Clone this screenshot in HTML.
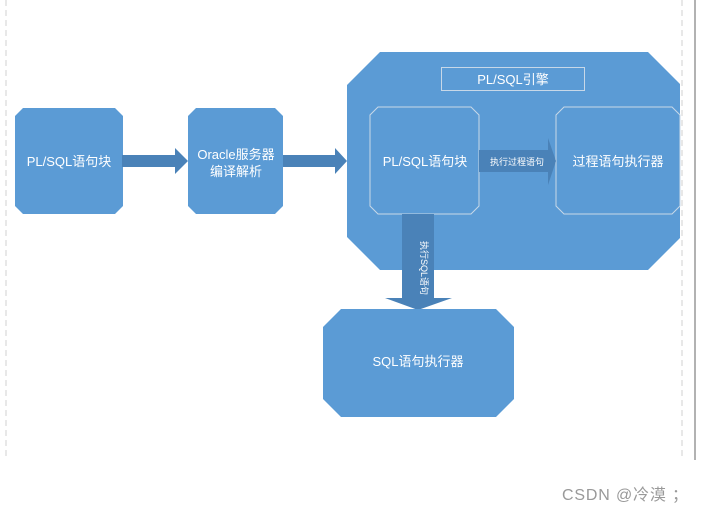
<!DOCTYPE html>
<html><head><meta charset="utf-8"><style>
html,body{margin:0;padding:0;background:#fff;}
svg{display:block;}
text{font-family:"Liberation Sans","Noto Sans CJK SC",sans-serif;fill:#fff;}
</style></head><body>
<svg width="701" height="513" viewBox="0 0 701 513" xmlns="http://www.w3.org/2000/svg">
<line x1="6" y1="0" x2="6" y2="460" stroke="#d0d0d0" stroke-dasharray="6,4"/>
<line x1="682" y1="0" x2="682" y2="460" stroke="#d0d0d0" stroke-dasharray="6,4"/>
<line x1="695" y1="0" x2="695" y2="460" stroke="#999" stroke-width="1.5"/>
<polygon points="23,108 115,108 123,116 123,206 115,214 23,214 15,206 15,116" fill="#5b9bd5"/>
<text x="69" y="166" font-size="13" text-anchor="middle">PL/SQL语句块</text>
<polygon points="122,155 175,155 175,148 188,161 175,174 175,167 122,167" fill="#4a82b8"/>
<polygon points="196,108 275,108 283,116 283,206 275,214 196,214 188,206 188,116" fill="#5b9bd5"/>
<text x="236" y="159" font-size="13" text-anchor="middle">Oracle服务器</text>
<text x="236" y="176" font-size="13" text-anchor="middle">编译解析</text>
<polygon points="283,155 335,155 335,148 347,161 335,174 335,167 283,167" fill="#4a82b8"/>
<polygon points="380,52 648,52 680,84 680,238 648,270 380,270 347,237 347,85" fill="#5b9bd5"/>
<rect x="441.5" y="67.5" width="143" height="23" fill="none" stroke="#c8d8e8"/>
<text x="513" y="84" font-size="13" text-anchor="middle">PL/SQL引擎</text>
<polygon points="378,107 471,107 479,115 479,206 471,214 378,214 370,206 370,115" fill="#5b9bd5" stroke="#c8d8e8"/>
<text x="425" y="166" font-size="13" text-anchor="middle">PL/SQL语句块</text>
<polygon points="564,107 672,107 680,115 680,206 672,214 564,214 556,206 556,115" fill="#5b9bd5" stroke="#c8d8e8"/>
<text x="618" y="166" font-size="13" text-anchor="middle">过程语句执行器</text>
<polygon points="479,150 548,150 548,138 556,161 548,185 548,172 479,172" fill="#4a82b8"/>
<text x="517" y="165" font-size="9" text-anchor="middle">执行过程语句</text>
<polygon points="402,214 434,214 434,298 452,298 418,310 385,298 402,298" fill="#4a82b8"/>
<text x="0" y="0" font-size="9" text-anchor="middle" transform="translate(421,268) rotate(90)">执行SQL语句</text>
<polygon points="341,309 496,309 514,327 514,399 496,417 341,417 323,399 323,327" fill="#5b9bd5"/>
<text x="418" y="366" font-size="13" text-anchor="middle">SQL语句执行器</text>
<text x="562" y="500" font-size="16" textLength="126" style="fill:#999">CSDN @冷漠 ；</text>
</svg>
</body></html>
